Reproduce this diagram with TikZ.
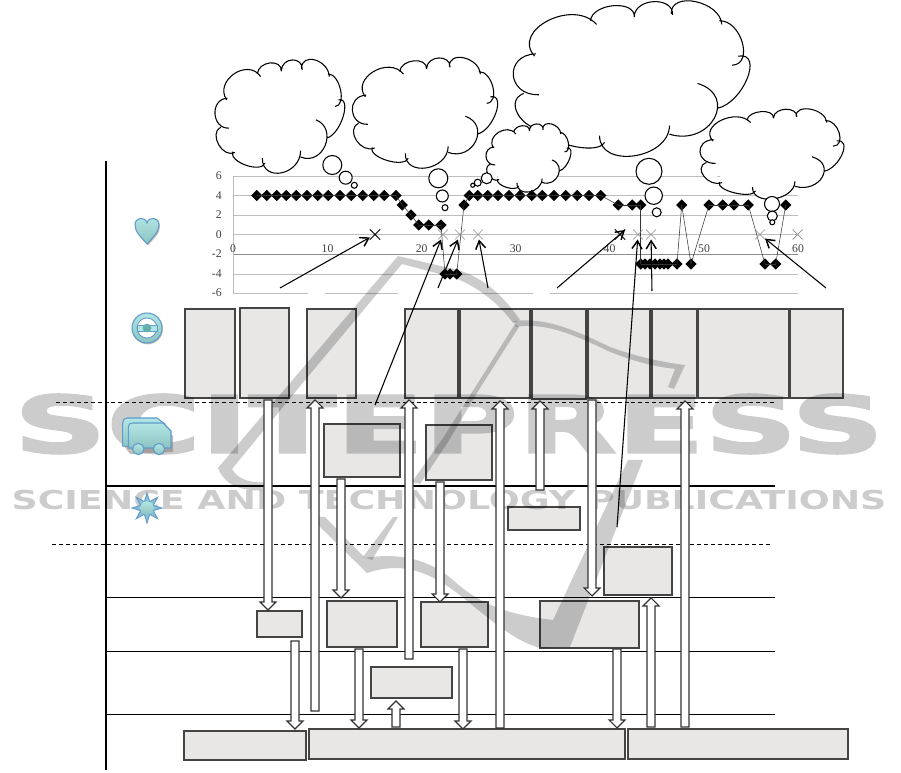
\documentclass[tikz,border=0pt]{standalone}
\usepackage{fontspec}
\setmainfont{Liberation Serif}
\newfontfamily\wmfont[FakeBold=2.2]{DejaVu Sans Bold}
\newfontfamily\wmfontb{DejaVu Sans Bold}
\usetikzlibrary{calc,arrows.meta,shapes.geometric,shapes.misc}
\definecolor{boxfill}{HTML}{E8E7E6}
\definecolor{boxedge}{HTML}{444444}
\definecolor{gridc}{HTML}{BDBDBD}
\definecolor{iconedge}{HTML}{5F9BCB}
\definecolor{icontop}{HTML}{B2E6E4}
\definecolor{iconbot}{HTML}{8CC3C0}
\definecolor{iconshadow}{HTML}{7A6A62}
\tikzset{
  pbox/.style={draw=boxedge,fill=boxfill,line width=.85pt,inner sep=0pt,outer sep=0pt},
  hollow/.style={draw=black!80,fill=white,line width=.8pt,line join=miter},
  callout/.style={draw=black,line width=.8pt,-{Straight Barb[length=6pt,width=7.5pt,line width=1.1pt]}},
  plainline/.style={draw=black,line width=.7pt},
  dashline/.style={draw=black,line width=.75pt,dash pattern=on 3pt off 2.2pt},
  gridline/.style={draw=gridc,line width=.65pt},
  dia/.style={diamond,fill=black,inner sep=0pt,minimum width=8.6pt,minimum height=8.6pt},
  xmark/.style={cross out,draw=black!45,line width=.5pt,inner sep=0pt,minimum size=7pt},
  xmarkdark/.style={xmark,draw=black,line width=.7pt},
  axlabel/.style={font=\fontsize{8.8}{10}\selectfont,text=black!75,inner sep=0pt},
  bubble/.style={draw=black,fill=white,line width=.8pt},
  cloudline/.style={draw=black,line width=.8pt},
  wm/.style={black,opacity=.2},
  icon/.style={draw=iconedge,line width=.8pt,top color=icontop,bottom color=iconbot},
  shad/.style={fill=iconshadow,fill opacity=.45,draw=none},
}
\newcommand\bp[3]{(#1) .. controls ($(#1)+1.333*(#2)-0.667*(#1)-0.667*(#3)$) and ($(#3)+1.333*(#2)-0.667*(#1)-0.667*(#3)$) .. (#3)}
\newcommand\cloudbumps{
  \bp{50,300}{72,222}{152,230}
  \bp{142,222}{180,189}{214,214}
  \bp{214,212}{247,180}{277,209}
  \bp{275,207}{315,180}{358,230}
  \bp{354,222}{392,270}{375,320}
  \bp{385,300}{400,350}{350,415}
  \bp{318,360}{346,437}{272,472}
  \bp{272,453}{214,520}{157,475}
  \bp{165,490}{108,497}{68,456}
  \bp{75,458}{26,435}{32,382}
  \bp{57,385}{15,342}{52,295}
}
\newcommand\cloudat[4]{%
  \pgfmathsetmacro\csx{(#3-#1)/385}\pgfmathsetmacro\csy{(#4-#2)/340}%
  \begin{scope}[shift={({#1-15*\csx},{#2-180*\csy})},xscale=\csx,yscale=\csy]
    \fill[white] (50,300)--(142,222)--(214,212)--(275,207)--(354,222)--(385,300)--(350,415)--(272,453)--(165,490)--(75,458)--(57,385)--cycle;
    \fill[white] \cloudbumps;
    \draw[cloudline] \cloudbumps;
  \end{scope}}
\newcommand\boxn[5]{\node[pbox,minimum width={(#4-#2)*.75pt},minimum height={(#5-#3)*.75pt}] (#1) at ({(#2+#4)/2},{(#3+#5)/2}) {};}
\newcommand\harrow[4]{%
  \coordinate (#1s) at (#2,#3);
  \coordinate (#1e) at (#2,#4);
  \pgfmathsetmacro\hd{#4>#3 ? 8 : -8}%
  \draw[hollow] ($(#1s)+(-4,0)$) -- ($(#1e)+(-4,-\hd)$) -- ($(#1e)+(-8,-\hd)$) -- (#1e) -- ($(#1e)+(8,-\hd)$) -- ($(#1e)+(4,-\hd)$) -- ($(#1s)+(4,0)$) -- cycle;}
\begin{document}
\begin{tikzpicture}[x=.75pt,y=-.75pt]
\useasboundingbox (0,0) rectangle (901,773);
\fill[white] (0,0) rectangle (901,773);

% grid of the chart
\foreach \yy in {176,195.5,215,234.5,274}{\draw[gridline] (233,\yy) -- (798,\yy);}
\draw[draw=black!45,line width=.65pt] (233,254) -- (798,254);
\draw[gridline] (233,176) -- (233,293);
\foreach \aa/\bb in {233/308,325/398,440/533,550/798}{\draw[gridline] (\aa,293) -- (\bb,293);}
\foreach \vv/\yy in {6/176,4/195.5,2/215,0/234.5,-2/254,-4/274,-6/293}{\node[axlabel,anchor=east] at (222,\yy) {\vv};}
\foreach \vv/\xx in {0/233,10/327.5,20/421.7,30/515.7,40/609.5,50/704,60/798}{\node[axlabel] at (\xx,248.5) {\vv};}

% boxes
\boxn{b1}{185}{309}{235}{398}
\boxn{b2}{240}{308}{289}{398}
\boxn{b3}{307}{309}{356}{398}
\boxn{b4}{405}{309}{458}{398}
\boxn{b5}{460}{309}{530}{398}
\boxn{b6}{532}{309}{586}{399}
\boxn{b7}{588}{309}{650}{398}
\boxn{b8}{652}{309}{697}{398}
\boxn{b9}{698}{309}{789}{398}
\boxn{b10}{790}{309}{843}{398}
\boxn{c1}{324}{424}{400}{477}
\boxn{c2}{426}{425}{492}{480}
\boxn{c3}{508}{507}{580}{530}
\boxn{c4}{604}{547}{672}{595}
\boxn{d1}{257}{611}{302}{637}
\boxn{d2}{327}{601}{397}{647}
\boxn{d3}{421}{602}{488}{647}
\boxn{d4}{540}{601}{639}{648}
\boxn{e1}{371}{667}{452}{698}
\boxn{f1}{184}{731}{306}{760}
\boxn{f2}{309}{729}{625}{759}
\boxn{f3}{628}{729}{848}{759}

% lane lines
\draw[draw=black,line width=.9pt] (106,161) -- (106,770);
\draw[dashline] (56,403) -- (776,403);
\draw[draw=black,line width=1.5pt] (106,486) -- (775,486);
\draw[dashline] (52,545) -- (771,545);
\foreach \yy in {597,651,714}{\draw[plainline] (106,\yy) -- (775,\yy);}

% watermark
\begin{scope}[transparency group,opacity=.2]
\node[inner sep=0pt,black] at (449,424) {\resizebox{652pt}{44pt}{\wmfont SCITEPRESS}};
\node[inner sep=0pt,black] at (449,500.5) {\resizebox{656pt}{14.5pt}{\wmfontb SCIENCE AND TECHNOLOGY PUBLICATIONS}};
\end{scope}
\fill[wm] (398,256) -- (290,383) -- (218,468) .. controls (226,488) and (245,492) .. (272,490) -- (272,482) .. controls (252,484) and (238,480) .. (232,469) -- (296,391) -- (402,264) -- (455,278) .. controls (480,288) and (500,305) .. (513,323) -- (520,320) .. controls (505,298) and (485,278) .. (458,270) -- cycle;
\fill[wm] (514,321) .. controls (545,317) and (575,330) .. (610,347) .. controls (635,356) and (660,362) .. (685,365) -- (674,389) -- (668,387) -- (675,369) .. controls (650,366) and (630,360) .. (608,351) .. controls (575,335) and (545,322) .. (516,327) -- cycle;
\fill[wm] (515,324) -- (519,327) -- (480,388) -- (448,442) -- (420,484) -- (412,482) -- (443,438) -- (476,386) -- cycle;
\fill[wm] (310,517) -- (325,517) -- (365,558) .. controls (400,552) and (430,560) .. (453,580) .. controls (480,605) and (510,615) .. (553,620) -- (628,460) -- (643,460) -- (570,647) -- (540,648) .. controls (510,640) and (480,610) .. (453,590) .. controls (425,570) and (400,562) .. (367,573) -- cycle;
\fill[wm] (393,517) -- (398,517) -- (372,560) -- (363,557) -- cycle;

% clouds and thought bubbles
\cloudat{513.3}{1.7}{747.3}{156}
\cloudat{215}{60}{343.3}{173}
\cloudat{352.3}{58}{496}{168}
\cloudat{486}{124}{570}{192}
\cloudat{700}{109.3}{842.3}{199}
\foreach \nm/\xx/\yy/\rr in {t1/332.3/165/9.5,t2/345.7/177.7/6.5,t3/354.3/185.3/3,
  t4/438.3/178.3/9.5,t5/442.3/196/6,t6/445/207.7/3,
  t7/486.7/178.3/5.5,t8/477.7/182.7/3.5,t9/472.7/185.3/2,
  t10/649/171.3/13,t11/653.7/195.7/8.7,t12/656.7/212.3/4.5,
  t13/772/204/7.5,t14/772.3/216/5,t15/772.3/222.3/2.5}{
  \node[circle,bubble,inner sep=0pt,minimum size={2*\rr*.75pt}] (\nm) at (\xx,\yy) {};}

% chart series
\foreach \xx/\yy [count=\i] in {256.7/195.5,266.7/195.5,276.7/195.5,286.3/195.5,296.3/195.5,307/195.5,317.7/195.5,328.3/195.5,340/195.5,351.3/195.5,362.7/195.5,373.7/195.5,384.3/195.5,396/195.5,
  402.3/205,411/215,418.7/225,428.7/225,441/225,445/274,450/274,456.7/274,464/205,
  469.3/195.5,477.7/195.5,487.7/195.5,498/195.5,509/195.5,520/195.5,531.7/195.5,542.3/195.5,554/195.5,565.7/195.5,577.3/195.5,589/195.5,600.7/195.5,
  618.3/205,632.3/205,640.7/205,640.7/264,645/264,650/264,655/264,660/264,664/264,668/264,677/264,681.7/205,691/264,709/205,722.7/205,734/205,748.3/205,765/264,775.7/264,785.7/205}{
  \node[dia] (s\i) at (\xx,\yy) {};
}
\foreach \i [evaluate=\i as \j using int(\i+1)] in {1,...,55}{\draw[draw=black!80,line width=.4pt] (s\i.center) -- (s\j.center);}

% crosses
\node[xmarkdark] (xa) at (375,234.5) {};
\node[xmark] (xb) at (443,234.5) {};
\node[xmark] (xc) at (460,234.5) {};
\node[xmark] (xd) at (478,234.5) {};
\node[xmarkdark] (xe) at (620,234.5) {};
\node[xmark] (xf) at (638,234.5) {};
\node[xmark] (xg) at (651,234.5) {};
\node[xmark] (xh) at (760,234.5) {};
\node[xmark] (xi) at (797.7,234.5) {};

% hollow arrows
\harrow{a1}{268}{400}{610}
\harrow{a2}{315}{711}{400}
\harrow{a3}{341}{479}{598}
\harrow{a4}{409}{659}{400}
\harrow{a5}{440}{482}{602}
\harrow{a6}{500}{728}{401}
\harrow{a7}{540}{490}{401}
\harrow{a8}{592}{400}{596}
\harrow{a9}{685}{727}{401}
\harrow{a10}{651}{727}{598}
\harrow{a11}{295}{641}{729}
\harrow{a12}{359}{649}{728}
\harrow{a13}{396}{727}{701}
\harrow{a14}{463}{649}{729}
\harrow{a15}{617}{649}{728}

% callout arrows
\coordinate (k1) at (280,288);
\coordinate (k2) at (375,405);
\coordinate (k3) at (438,288);
\coordinate (k4) at (488,288);
\coordinate (k5) at (557,288);
\coordinate (k6) at (617,527);
\coordinate (k7) at (652,291);
\coordinate (k8) at (826,288);
\coordinate (k5e) at (625,230);
\draw[callout] (k1) -- (xa);
\draw[callout] (k2) -- (xb);
\draw[callout] (k3) -- (xc);
\draw[callout] (k4) -- (xd);
\draw[callout] (k5) -- (k5e);
\draw[callout] (k6) -- (xf);
\draw[callout] (k7) -- (xg);
\draw[callout] (k8) -- (xh);

% icons
\begin{scope}
  \def\heart{(147,244) .. controls (141,237) and (135,232) .. (135,225) .. controls (135,217) and (145,216) .. (147,223) .. controls (149,216) and (159,217) .. (159,225) .. controls (159,232) and (153,237) .. (147,244) -- cycle}
  \begin{scope}[shift={(1,1.5)}]\fill[shad] \heart;\end{scope}
  \path[icon] \heart;
\end{scope}
\fill[shad] (147.7,329) circle[radius=11.5pt];
\node[circle,icon,minimum size=22.5pt,inner sep=0pt] (wheel) at (147,328) {};
\node[circle,draw=iconedge,fill=white,line width=.6pt,minimum size=15pt,inner sep=0pt] (wheelin) at (147,328) {};
\fill[icontop,draw=iconedge,line width=.4pt] (137,325) rectangle (157,331.5);
\node[circle,fill=iconbot!70!teal,minimum size=6.5pt,inner sep=0pt] (hub) at (147,328) {};

\fill[shad] (124,420) -- (158,420) -- (173,436) -- (173,452) -- (130,454) -- (124,446) -- cycle;
\path[icon] (122.7,423) .. controls (122.7,420) and (124,418) .. (127,418) -- (157,418) -- (165,424) -- (165,448) -- (122.7,446) -- cycle;
\path[icon] (128.3,427) .. controls (128.3,424) and (130,423) .. (133,423) -- (163,423) -- (171,431) -- (171,448) -- (128.3,448) -- cycle;
\node[circle,icon,minimum size=8.5pt,inner sep=0pt] (w1) at (138.3,449) {};
\node[circle,icon,minimum size=8.5pt,inner sep=0pt] (w2) at (159,449) {};

\node[star,star points=8,star point ratio=2.2,draw=iconedge,fill=icontop!50!iconedge,line width=.7pt,minimum size=22.5pt,inner sep=0pt] (sunrays) at (147,508) {};
\node[circle,icon,draw=none,minimum size=10pt,inner sep=0pt] (sun) at (147,508) {};
\end{tikzpicture}
\end{document}
